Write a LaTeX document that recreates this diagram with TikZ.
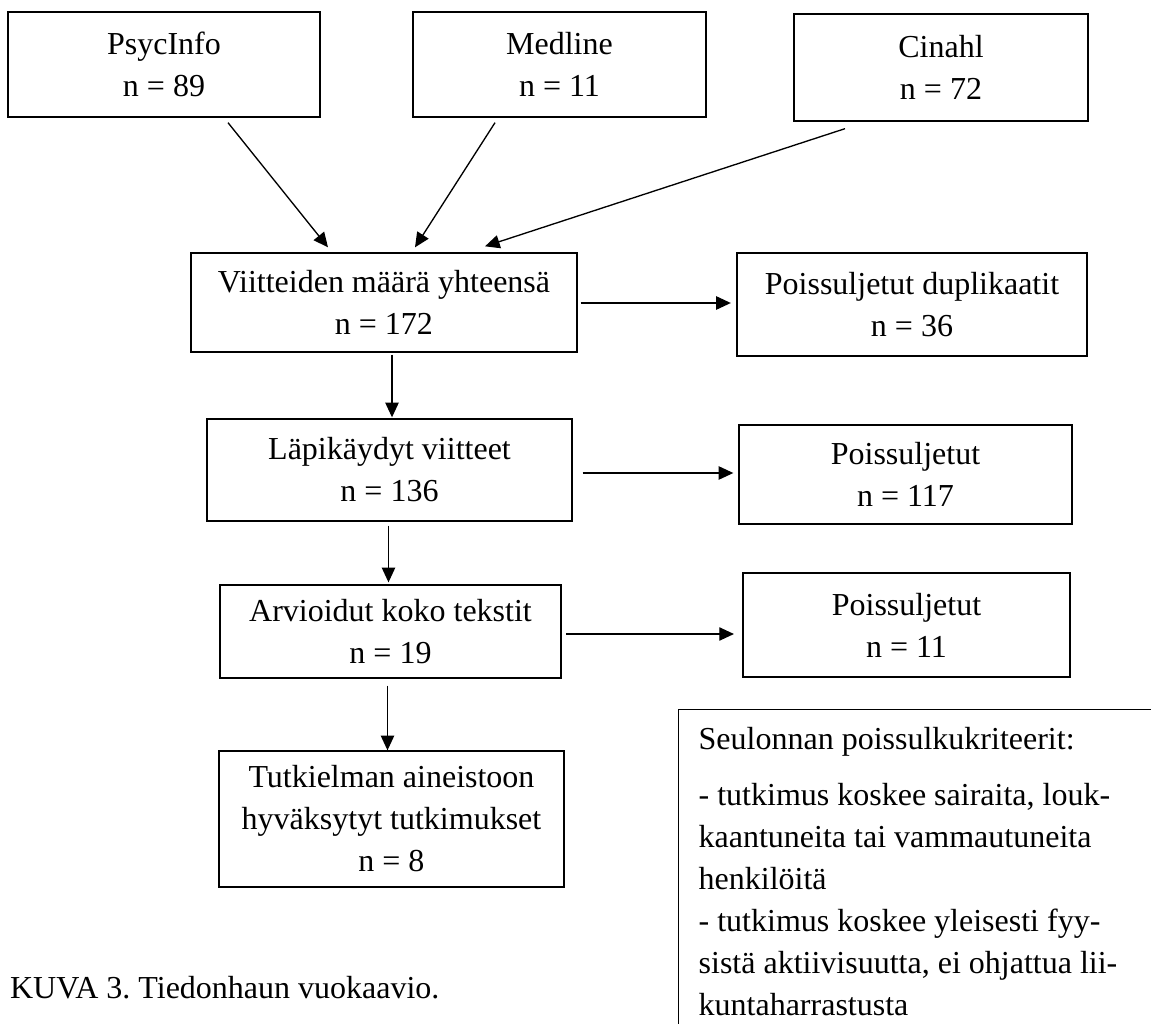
\documentclass[tikz,border=0pt]{standalone}
\usepackage{fontspec}
\setmainfont{Liberation Serif}
\usepackage{tikz}
\usetikzlibrary{arrows.meta, positioning, calc}
\usepackage{xcolor}
\definecolor{LineBlack}{HTML}{000000}
\frenchspacing
\tikzset{
  % Basic flowchart box
  flowbox/.style={
    rectangle, draw=LineBlack, line width=0.5pt,
    fill=white, align=center, inner sep=2pt,
    font=\fontsize{12}{15.75}\selectfont
  },
  % Box size (width, height)
  boxsize/.style 2 args={
    minimum width=#1, minimum height=#2
  },
  % Criteria note box
  notebox/.style={
    rectangle, draw=LineBlack, line width=0.5pt,
    fill=white, align=flush left, text width=187.5pt,
    inner xsep=7.5pt, inner ysep=6.75pt,
    font=\fontsize{12}{15.75}\selectfont
  },
  % Caption text
  captiontext/.style={
    inner sep=0pt, font=\fontsize{12}{15.75}\selectfont
  },
  % Arrow style
  arrow/.style={
    -{Triangle[length=5.5pt, width=5pt]},
    line width=0.5pt, draw=LineBlack
  }
}

\begin{document}
\begin{tikzpicture}[x=0.375pt, y=-0.375pt]

\clip (0,0) rectangle (1151,1023);
\fill[white] (0,0) rectangle (1151,1023);

% ── source databases ──────────────────────────────
\node[flowbox, boxsize={117pt}{39.375pt}] (psyc) at (164,64.5)
  {PsycInfo\\n = 89};
\node[flowbox, boxsize={109.875pt}{39.375pt}] (medline) at (559.5,64.5)
  {Medline\\n = 11};
\node[flowbox, boxsize={110.25pt}{40.125pt}] (cinahl) at (941,67.5)
  {Cinahl\\n = 72};

% ── main flow ─────────────────────────────────────
\node[flowbox, boxsize={144.75pt}{37.125pt}] (total) at (384,302.5)
  {Viitteiden määrä yhteensä\\n = 172};
\node[flowbox, boxsize={131.25pt}{38.625pt}] (dupl) at (912,304.5)
  {Poissuljetut duplikaatit\\n = 36};

\node[flowbox, boxsize={136.875pt}{38.25pt}] (screened) at (389.5,470)
  {Läpikäydyt viitteet\\n = 136};
\node[flowbox, boxsize={124.875pt}{37.125pt}] (excl_scr) at (905.5,474.5)
  {Poissuljetut\\n = 117};

\node[flowbox, boxsize={127.875pt}{34.875pt}] (fulltext) at (390.5,631.5)
  {Arvioidut koko tekstit\\n = 19};
\node[flowbox, boxsize={122.625pt}{39pt}] (excl_full) at (906.5,625)
  {Poissuljetut\\n = 11};

\node[flowbox, boxsize={129.375pt}{51pt}] (included) at (391.5,819)
  {Tutkielman aineistoon\\hyväksytyt tutkimukset\\n = 8};

% ── exclusion criteria ────────────────────────────
\node[notebox, anchor=north west] (criteria) at (678,709)
  {Seulonnan poissulkukriteerit:\\[5.25pt]
   - tutkimus koskee sairaita, louk-\\
   kaantuneita tai vammautuneita\\
   henkilöitä\\
   - tutkimus koskee yleisesti fyy-\\
   sistä aktiivisuutta, ei ohjattua lii-\\
   kuntaharrastusta};

\node[captiontext, anchor=base west] (caption) at (9.6,998)
  {KUVA 3. Tiedonhaun vuokaavio.};

% ── connectors ────────────────────────────────────
\draw[arrow] ($(psyc.south)+(64,5)$)     -- ($(total.north)+(-56,-5)$);
\draw[arrow] ($(medline.south)+(-64.5,5)$) -- ($(total.north)+(31,-5)$);
\draw[arrow] ($(cinahl.south)+(-96,7)$)  -- ($(total.north)+(101,-6)$);

\draw[arrow] ($(total.east)+(3,0.5)$)     -- ($(dupl.west)+(-5.5,-1.5)$);
\draw[arrow] ($(screened.east)+(10,3)$)   -- ($(excl_scr.west)+(-5,-1.5)$);
\draw[arrow] ($(fulltext.east)+(4.6,2.5)$) -- ($(excl_full.west)+(-8.4,9)$);

\draw[arrow] ($(total.south)+(8,2)$)      -- ($(screened.north)+(2.5,-1)$);
\draw[arrow] ($(screened.south)+(-1,4)$)  -- ($(fulltext.north)+(-2,-2)$);
\draw[arrow] ($(fulltext.south)+(-3,7)$)  -- ($(included.north)+(-4,0)$);

\end{tikzpicture}
\end{document}
